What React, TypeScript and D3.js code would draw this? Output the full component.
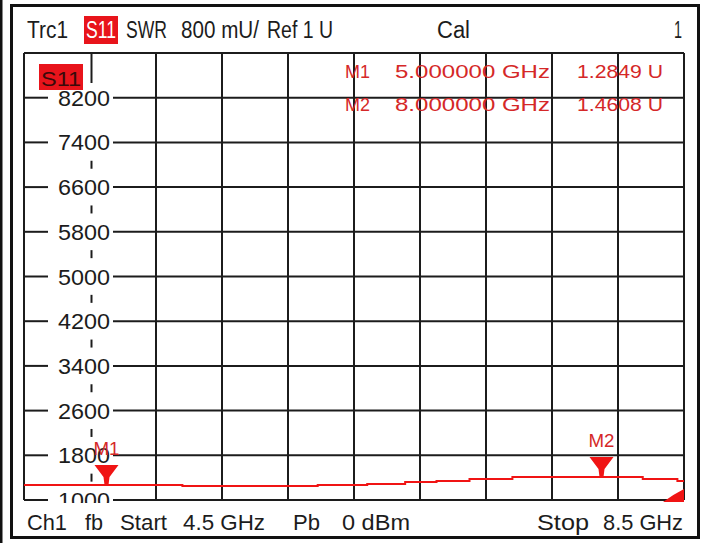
import React from "react";
import * as d3 from "d3";

// grid: 10 x 10 divisions
const freqStart = 4.5;
const freqStop = 8.5;
const yTickLabels = [8200, 7400, 6600, 5800, 5000, 4200, 3400, 2600, 1800, 1000];
const yTop = 9000;
const yBottom = 1000;

// trace (GHz, mU), stepped
const traceFreq = [4.5, 5.46, 6.28, 6.58, 6.81, 7.0, 7.2, 7.46, 8.25, 8.46, 8.5];
const traceSwr = [1268, 1250, 1268, 1286, 1322, 1340, 1376, 1411, 1376, 1340, 1340];

const markerNames = ["M1", "M2"];
const markerFreq = [5.0, 8.0];
const markerFreqText = ["5.000000 GHz", "8.000000 GHz"];
const markerValueText = ["1.2849 U", "1.4608 U"];

const headerTexts = ["Trc1", "SWR", "800 mU/", "Ref 1 U", "Cal", "1"];
const footerTexts = ["Ch1", "fb", "Start", "4.5 GHz", "Pb", "0 dBm", "Stop", "8.5 GHz"];

const FONT = "'Liberation Sans', Arial, sans-serif";
const RED = "#f01414";
const TXTRED = "#d52828";
const INK = "#1c1c1c";

export default function App() {
  const x = d3.scaleLinear().domain([freqStart, freqStop]).range([24, 684]);
  const y = d3.scaleLinear().domain([yBottom, yTop]).range([500, 53]);

  const gridF = d3.range(11).map((i) => freqStart + (i * (freqStop - freqStart)) / 10);
  const gridV = d3.range(11).map((i) => yBottom + i * 800);
  const labelX = x(gridF[1]);

  const pts = traceFreq.map((f, i) => [f, traceSwr[i]] as [number, number]);
  const line = d3
    .line<[number, number]>()
    .x((d) => x(d[0]))
    .y((d) => y(d[1]))
    .curve(d3.curveStepAfter);

  const traceAt = (f: number) => {
    let v = traceSwr[0];
    traceFreq.forEach((tf, i) => {
      if (tf <= f) v = traceSwr[i];
    });
    return v;
  };

  // header layout [x, width]
  const headerPos = [
    [27, 41],
    [126, 41],
    [181, 78],
    [267, 66],
    [437, 33],
    [674, 8],
  ];
  const footerPos = [
    [27, 40],
    [85, 18],
    [120, 47],
    [183, 82],
    [293, 27],
    [342, 68],
    [537, 52],
    [603, 80],
  ];

  return (
    <svg
      width={704}
      height={543}
      style={{ position: "absolute", left: 0, top: 0, background: "#fff" }}
      fontFamily={FONT}
    >
      <rect x={0} y={0} width={704} height={543} fill="#fff" />
      <rect x={0} y={0} width={2.5} height={543} fill="#111" />
      <rect x={11.5} y={5.5} width={687} height={532} fill="none" stroke="#111" strokeWidth={3} />

      {/* header */}
      {headerTexts.map((t, i) => (
        <text
          key={"h" + i}
          x={headerPos[i][0]}
          y={38}
          fontSize={23}
          fill={INK}
          textLength={headerPos[i][1]}
          lengthAdjust="spacingAndGlyphs"
        >
          {t}
        </text>
      ))}
      <rect x={84} y={16} width={34} height={28} fill="#e8141b" />
      <text x={86} y={38} fontSize={23} fill="#fff" textLength={30} lengthAdjust="spacingAndGlyphs">
        S11
      </text>

      {/* grid verticals */}
      {gridF.map((f, i) =>
        i === 1 ? null : (
          <line key={"v" + i} x1={x(f)} x2={x(f)} y1={y(yTop)} y2={y(yBottom)} stroke={INK} strokeWidth={2} />
        )
      )}
      {/* label column: short dashes */}
      <line x1={labelX + 1.5} x2={labelX + 1.5} y1={y(yTop)} y2={83} stroke={INK} strokeWidth={2} />
      {gridV.slice(0, 9).map((v, i) => {
        const ym = (y(v) + y(v + 800)) / 2;
        return i === 8 ? null : (
          <line key={"d" + i} x1={labelX + 1.5} x2={labelX + 1.5} y1={ym - 4} y2={ym + 4} stroke={INK} strokeWidth={2} />
        );
      })}
      {/* grid horizontals */}
      <line x1={x(freqStart)} x2={x(freqStop)} y1={y(yTop)} y2={y(yTop)} stroke={INK} strokeWidth={2} />
      {yTickLabels.map((v) => (
        <g key={"hl" + v}>
          <line x1={x(freqStart)} x2={48} y1={y(v)} y2={y(v)} stroke={INK} strokeWidth={2} />
          <line x1={113} x2={x(freqStop)} y1={y(v)} y2={y(v)} stroke={INK} strokeWidth={2} />
        </g>
      ))}

      {/* y labels */}
      {yTickLabels.map((v) => (
        <text
          key={"yl" + v}
          x={58}
          y={y(v) + 8}
          fontSize={22}
          fill={INK}
          textLength={52}
          lengthAdjust="spacingAndGlyphs"
        >
          {v}
        </text>
      ))}

      {/* S11 trace tag */}
      <rect x={39} y={64} width={44} height={26} fill="#e8141b" />
      <text x={41} y={86} fontSize={21} fill="#3a0a0a" textLength={40} lengthAdjust="spacingAndGlyphs">
        S11
      </text>

      {/* marker readout */}
      {markerNames.map((m, i) => {
        const by = 78 + i * 33;
        return (
          <g key={"mr" + i} fill={TXTRED} fontSize={19}>
            <text x={345} y={by} textLength={25} lengthAdjust="spacingAndGlyphs">
              {m}
            </text>
            <text x={395} y={by} textLength={155} lengthAdjust="spacingAndGlyphs">
              {markerFreqText[i]}
            </text>
            <text x={577} y={by} textLength={86} lengthAdjust="spacingAndGlyphs">
              {markerValueText[i]}
            </text>
          </g>
        );
      })}

      {/* footer mask (cuts the bottom label) */}
      <rect x={13} y={503} width={684} height={33} fill="#fff" />
      {footerTexts.map((t, i) => (
        <text
          key={"f" + i}
          x={footerPos[i][0]}
          y={530}
          fontSize={22}
          fill={INK}
          textLength={footerPos[i][1]}
          lengthAdjust="spacingAndGlyphs"
        >
          {t}
        </text>
      ))}

      {/* trace */}
      <path d={line(pts) || ""} fill="none" stroke={RED} strokeWidth={2} />

      {/* markers */}
      {markerNames.map((m, i) => {
        const mx = x(markerFreq[i]);
        const my = y(traceAt(markerFreq[i]));
        return (
          <g key={"mk" + i}>
            <path
              d={`M${mx - 12},${my - 20} L${mx + 12},${my - 20} L${mx + 3},${my - 8} L${mx + 2},${my} L${mx - 2},${my} L${mx - 3},${my - 8} Z`}
              fill={RED}
            />
            <text
              x={mx}
              y={my - 30}
              fontSize={19}
              fill={TXTRED}
              textAnchor="middle"
              textLength={26}
              lengthAdjust="spacingAndGlyphs"
            >
              {m}
            </text>
          </g>
        );
      })}

      {/* out-of-range corner flag */}
      <path
        d={`M${x(freqStop) - 21},${y(yBottom) + 2} L${x(freqStop)},${y(yBottom) + 2} L${x(freqStop)},${y(yBottom) - 11} Q${x(freqStop) - 10},${y(yBottom) - 6} ${x(freqStop) - 21},${y(yBottom) + 2} Z`}
        fill={RED}
      />
    </svg>
  );
}
